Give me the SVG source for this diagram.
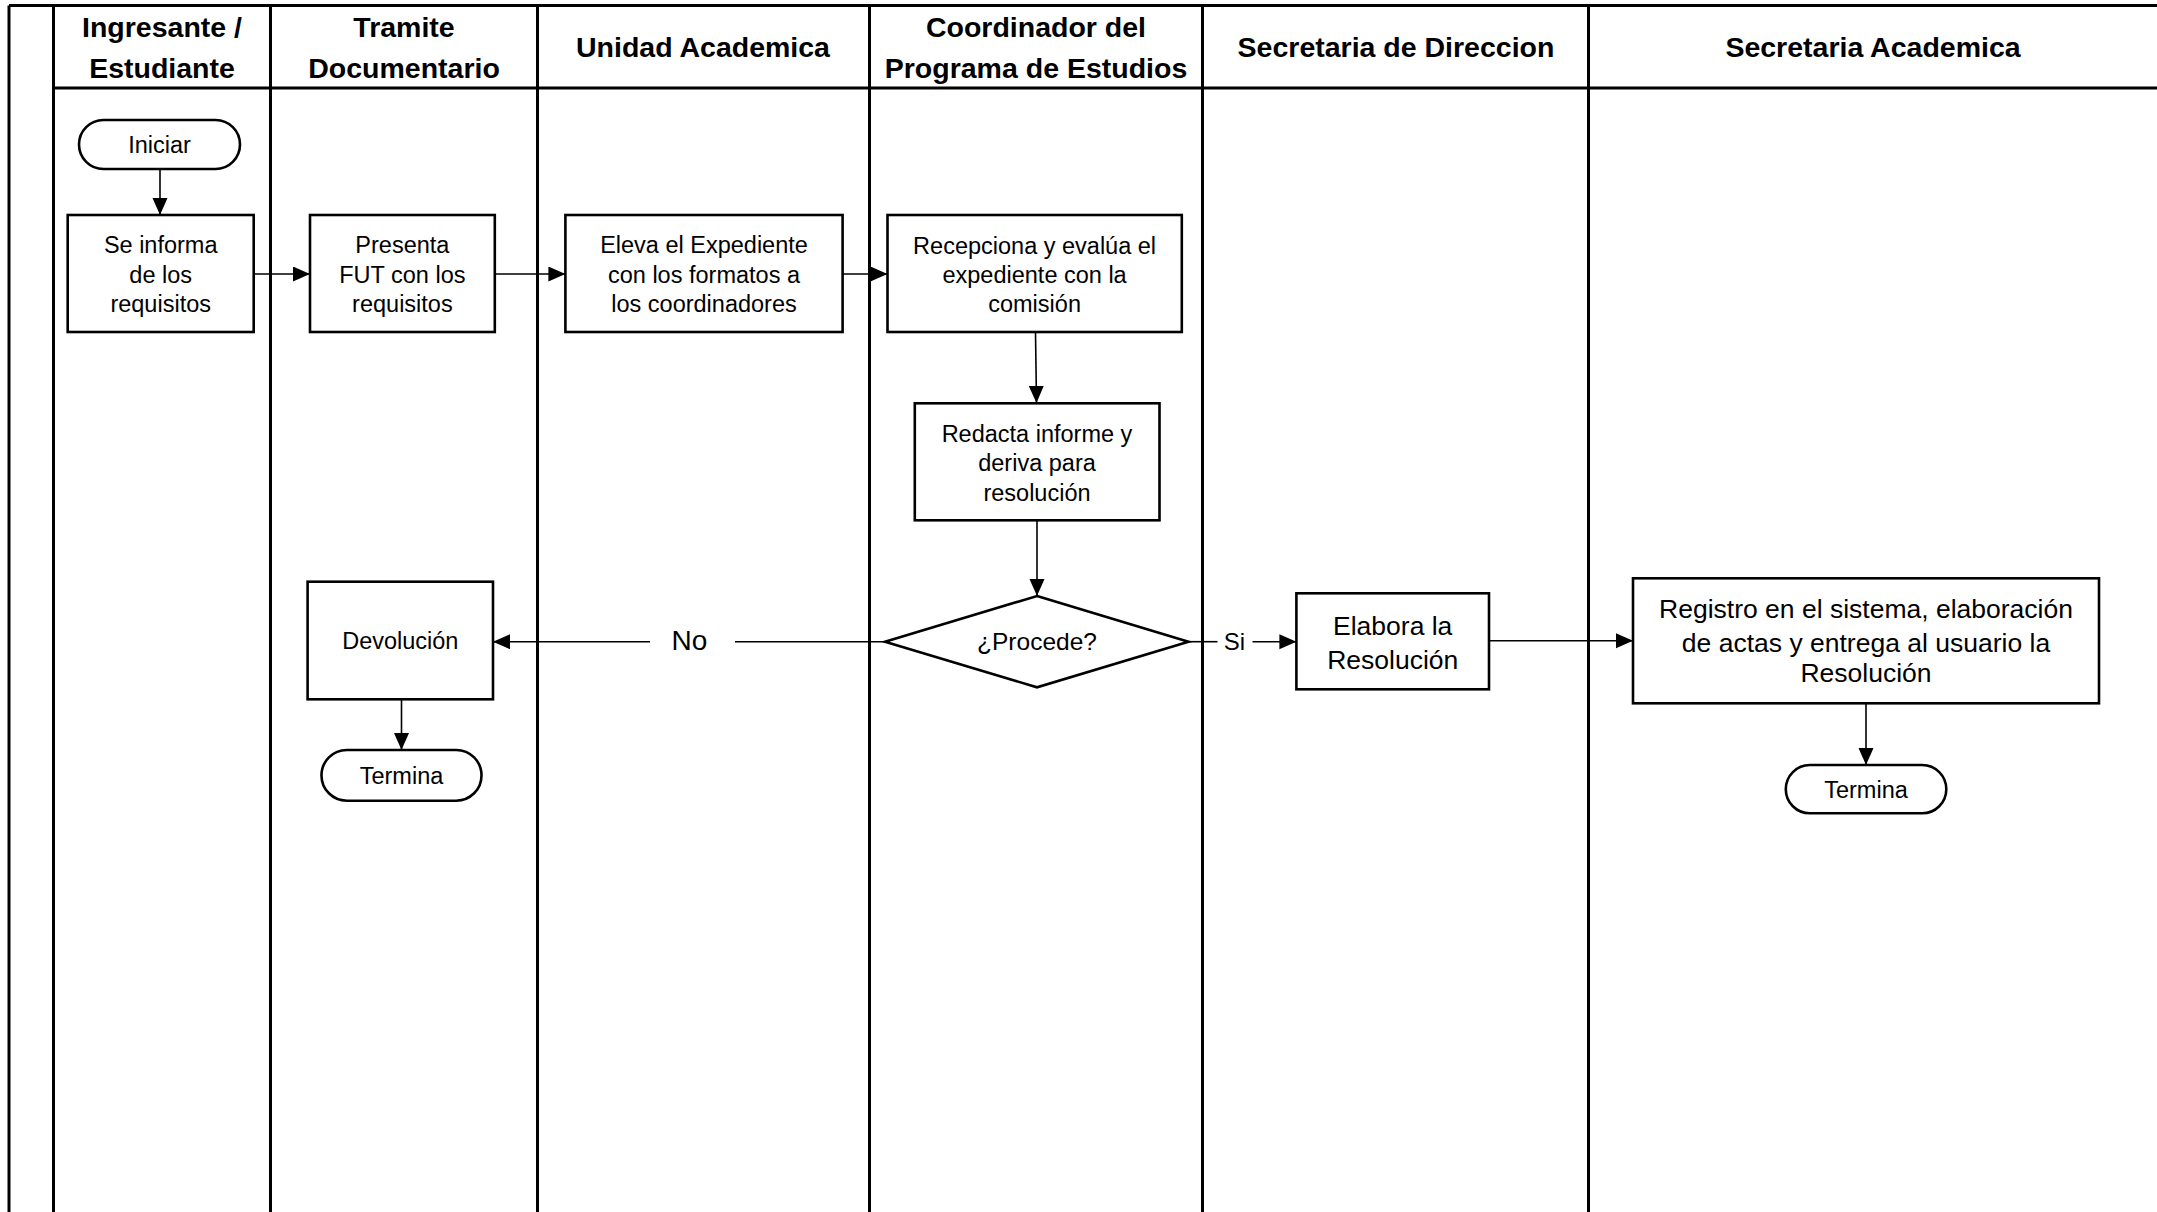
<svg xmlns="http://www.w3.org/2000/svg" width="2157" height="1212" viewBox="0 0 2157 1212">
<defs>
<style>
.lane{stroke:#000;stroke-width:3;fill:none}
.box{fill:#fff;stroke:#000;stroke-width:2.6}
.con{stroke:#000;stroke-width:1.6;fill:none}
.arr{marker-end:url(#ah)}
.hd{font-family:"Liberation Sans",Arial,sans-serif;font-weight:bold;font-size:28.5px;fill:#000;text-anchor:middle}
.tx{font-family:"Liberation Sans",Arial,sans-serif;font-size:23.5px;fill:#000;text-anchor:middle}
.tl{font-family:"Liberation Sans",Arial,sans-serif;font-size:26.5px;fill:#000;text-anchor:middle}
</style>
<marker id="ah" markerUnits="userSpaceOnUse" markerWidth="18" markerHeight="16" refX="17" refY="7.5" orient="auto">
<path d="M0,0 L17,7.5 L0,15 z" fill="#000"/>
</marker>
</defs>
<rect x="0" y="0" width="2157" height="1212" fill="#fff"/>
<g id="lanes">
<line class="lane" x1="9" y1="5.5" x2="2157" y2="5.5"/>
<line class="lane" x1="9" y1="5.5" x2="9" y2="1212"/>
<line class="lane" x1="53.5" y1="5.5" x2="53.5" y2="1212"/>
<line class="lane" x1="270.5" y1="5.5" x2="270.5" y2="1212"/>
<line class="lane" x1="537.5" y1="5.5" x2="537.5" y2="1212"/>
<line class="lane" x1="869.5" y1="5.5" x2="869.5" y2="1212"/>
<line class="lane" x1="1202.5" y1="5.5" x2="1202.5" y2="1212"/>
<line class="lane" x1="1588.5" y1="5.5" x2="1588.5" y2="1212"/>
<line class="lane" x1="53.5" y1="88" x2="2157" y2="88"/>
</g>
<g id="headers">
<text class="hd" x="162" y="37">Ingresante /</text>
<text class="hd" x="162" y="78">Estudiante</text>
<text class="hd" x="404" y="37">Tramite</text>
<text class="hd" x="404" y="78">Documentario</text>
<text class="hd" x="703" y="57">Unidad Academica</text>
<text class="hd" x="1036" y="37">Coordinador del</text>
<text class="hd" x="1036" y="78">Programa de Estudios</text>
<text class="hd" x="1396" y="57">Secretaria de Direccion</text>
<text class="hd" x="1873" y="57">Secretaria Academica</text>
</g>
<g id="connectors">
<line class="con arr" x1="160" y1="169" x2="160" y2="215"/>
<line class="con arr" x1="253.7" y1="274" x2="310" y2="274"/>
<line class="con arr" x1="494.8" y1="274" x2="565.4" y2="274"/>
<line class="con arr" x1="842.6" y1="274" x2="887.5" y2="274"/>
<line class="con arr" x1="1035.5" y1="332" x2="1036.5" y2="403"/>
<line class="con arr" x1="1037" y1="520" x2="1037" y2="596"/>
<line class="con" x1="885" y1="641.7" x2="735" y2="641.7"/>
<line class="con arr" x1="650" y1="641.7" x2="493" y2="641.7"/>
<text class="tx" x="689.5" y="649.5" style="font-size:28px">No</text>
<line class="con" x1="1188.5" y1="641.7" x2="1217.5" y2="641.7"/>
<text class="tx" x="1234.5" y="650" style="font-size:24px">Si</text>
<line class="con arr" x1="1252.5" y1="641.7" x2="1296.4" y2="641.7"/>
<line class="con arr" x1="1489" y1="640.7" x2="1633" y2="640.7"/>
<line class="con arr" x1="1866" y1="703.3" x2="1866" y2="765"/>
<line class="con arr" x1="401.5" y1="699.3" x2="401.5" y2="750"/>
</g>
<g id="n-iniciar">
<rect class="box" x="79" y="120" width="161" height="49" rx="24.5"/>
<text class="tx" x="159.5" y="153">Iniciar</text>
</g>
<g id="n-informa">
<rect class="box" x="67.7" y="215" width="186" height="117"/>
<text class="tx" x="160.7" y="253">Se informa</text>
<text class="tx" x="160.7" y="282.5">de los</text>
<text class="tx" x="160.7" y="312">requisitos</text>
</g>
<g id="n-presenta">
<rect class="box" x="310" y="215" width="184.8" height="117"/>
<text class="tx" x="402.4" y="253">Presenta</text>
<text class="tx" x="402.4" y="282.5">FUT con los</text>
<text class="tx" x="402.4" y="312">requisitos</text>
</g>
<g id="n-eleva">
<rect class="box" x="565.4" y="215" width="277.2" height="117"/>
<text class="tx" x="704" y="253">Eleva el Expediente</text>
<text class="tx" x="704" y="282.5">con los formatos a</text>
<text class="tx" x="704" y="312">los coordinadores</text>
</g>
<g id="n-recepciona">
<rect class="box" x="887.5" y="215" width="294.3" height="117"/>
<text class="tx" x="1034.6" y="254">Recepciona y evalúa el</text>
<text class="tx" x="1034.6" y="283">expediente con la</text>
<text class="tx" x="1034.6" y="312">comisión</text>
</g>
<g id="n-redacta">
<rect class="box" x="914.8" y="403.3" width="244.7" height="117"/>
<text class="tx" x="1037" y="441.5">Redacta informe y</text>
<text class="tx" x="1037" y="471">deriva para</text>
<text class="tx" x="1037" y="500.5">resolución</text>
</g>
<g id="n-procede">
<polygon class="box" points="1037,596 1188.5,641.7 1037,687.3 885,641.7"/>
<text class="tx" x="1037" y="649.5" style="font-size:24.5px">¿Procede?</text>
</g>
<g id="n-devolucion">
<rect class="box" x="307.6" y="581.7" width="185.4" height="117.6"/>
<text class="tx" x="400.3" y="649.3">Devolución</text>
</g>
<g id="n-termina1">
<rect class="box" x="321.5" y="750" width="160" height="50.7" rx="25.3"/>
<text class="tx" x="401.5" y="783.5">Termina</text>
</g>
<g id="n-elabora">
<rect class="box" x="1296.4" y="593.3" width="192.6" height="96"/>
<text class="tl" x="1392.7" y="635">Elabora la</text>
<text class="tl" x="1392.7" y="669.3">Resolución</text>
</g>
<g id="n-registro">
<rect class="box" x="1633" y="578.3" width="466" height="125"/>
<text class="tl" x="1866" y="618.3">Registro en el sistema, elaboración</text>
<text class="tl" x="1866" y="651.5">de actas y entrega al usuario la</text>
<text class="tl" x="1866" y="682">Resolución</text>
</g>
<g id="n-termina2">
<rect class="box" x="1785.8" y="765" width="160.5" height="48.3" rx="24.1"/>
<text class="tx" x="1866" y="797.5">Termina</text>
</g>
</svg>
